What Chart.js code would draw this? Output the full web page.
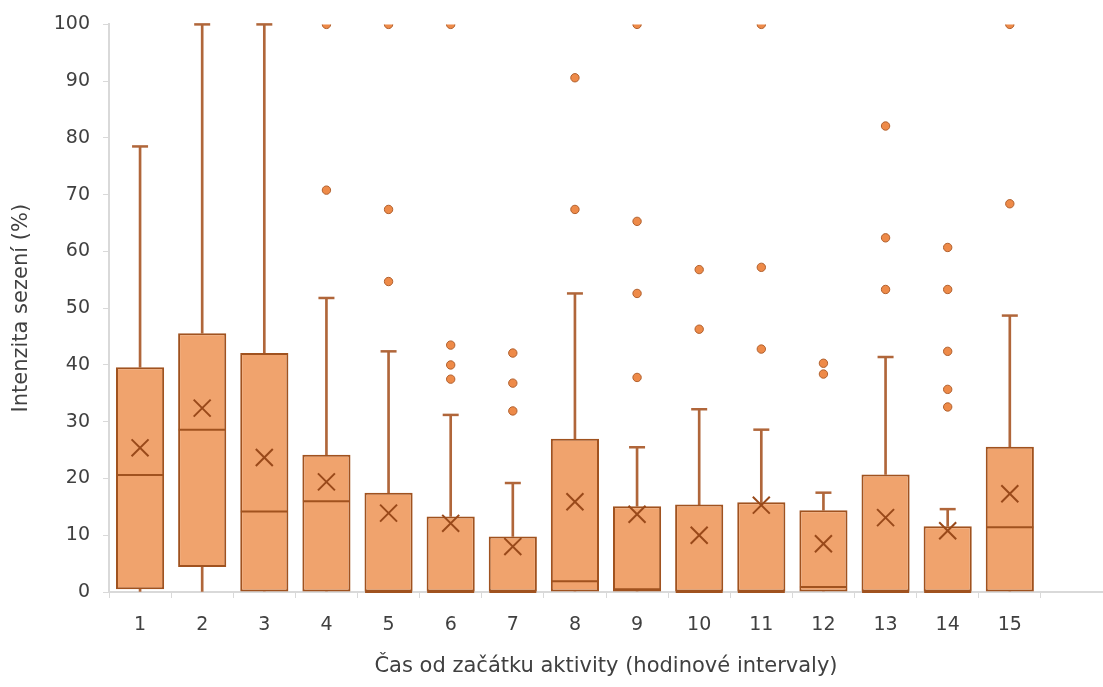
<!DOCTYPE html>
<html>
<head>
<meta charset="utf-8">
<script src="https://cdn.jsdelivr.net/npm/chart.js@4.4.1/dist/chart.umd.min.js"></script>
<style>
  html, body { margin: 0; padding: 0; background: #fff; }
  #mycanvas { display: block; }
</style>
</head>
<body>
<canvas id="mycanvas" width="1103" height="687"></canvas>
<script>
// hour intervals (16th slot is empty, like in the original)
var hours = ['1','2','3','4','5','6','7','8','9','10','11','12','13','14','15',''];

// box plot stats
var q1       = [0.5, 4.4, 0,    0,    0,    0,    0,   0,    0,    0,    0,    0,    0,    0,    0];
var median   = [20.6, 28.6, 14.2, 16.0, 0,  0,    0,   1.9,  0.5,  0,    0,    0.9,  0,    0,    11.4];
var q3       = [39.6, 45.6, 42.1, 24.2, 17.5, 13.3, 9.8, 27.0, 15.1, 15.4, 15.8, 14.4, 20.7, 11.6, 25.6];
var whiskLo  = [0,    0,    0,    0,    0,    0,    0,   0,    0,    0,    0,    0,    0,    0,    0];
var whiskHi  = [78.5, 100,  100,  51.8, 42.4, 31.2, 19.2, 52.6, 25.5, 32.2, 28.6, 17.5, 41.4, 14.6, 48.7];
var means    = [25.4, 32.4, 23.7, 19.4, 13.9, 12.1, 8.0, 15.9, 13.7, 10.0, 15.3, 8.5,  13.1, 10.8, 17.3];

// outliers, one list per interval
var outliers = [
  [],
  [],
  [],
  [100, 70.8],
  [100, 67.4, 54.7],
  [100, 43.5, 40.0, 37.5],
  [42.1, 36.8, 31.9],
  [90.6, 67.4],
  [100, 65.3, 52.6, 37.8],
  [56.8, 46.3],
  [100, 57.2, 42.8],
  [40.3, 38.4],
  [82.1, 62.4, 53.3],
  [60.7, 53.3, 42.4, 35.7, 32.6],
  [100, 68.4]
];

var boxFill = '#F0A36D';
var boxLine = '#A0521F';
var whiskColor = '#B0663A';
var textColor = '#404040';
var axisColor = '#D9D9D9';
var tickFont = { family: 'DejaVu Sans', size: 19 };
var titleFont = { family: 'DejaVu Sans', size: 21 };

var box = q1.map(function(v, i){ return [v, q3[i]]; });
var upperWhisk = q3.map(function(v, i){ return [v, whiskHi[i]]; });
var lowerWhisk = q1.map(function(v, i){ return [whiskLo[i], v]; });

var outlierPoints = [];
outliers.forEach(function(list, i){
  list.forEach(function(v){ outlierPoints.push({x: hours[i], y: v}); });
});

var ctx = document.getElementById('mycanvas');

var mycanvas = new Chart(ctx, {
  data: {
    labels: hours,
    datasets: [
      {
        type: 'bar',
        data: upperWhisk,
        backgroundColor: whiskColor,
        barThickness: 2,
        grouped: false,
        order: 6
      },
      {
        type: 'bar',
        data: lowerWhisk,
        backgroundColor: whiskColor,
        barThickness: 2,
        grouped: false,
        order: 6
      },
      {
        type: 'line',
        data: whiskHi,
        showLine: false,
        pointStyle: 'line',
        pointRadius: 8,
        pointBorderWidth: 2.5,
        pointBorderColor: whiskColor,
        pointBackgroundColor: whiskColor,
        clip: false,
        order: 5
      },
      {
        type: 'bar',
        data: box,
        backgroundColor: boxFill,
        borderColor: boxLine,
        borderWidth: 2,
        borderSkipped: false,
        categoryPercentage: 1,
        barPercentage: 0.775,
        grouped: false,
        order: 3
      },
      {
        // median line across the box
        type: 'line',
        data: median,
        showLine: false,
        pointStyle: 'line',
        pointRadius: 23.5,
        pointBorderWidth: 2,
        pointBorderColor: boxLine,
        clip: false,
        order: 2
      },
      {
        type: 'line',
        data: means,
        showLine: false,
        pointStyle: 'crossRot',
        pointRadius: 12,
        pointBorderWidth: 2,
        pointBorderColor: '#99491A',
        clip: false,
        order: 1
      },
      {
        type: 'line',
        data: outlierPoints,
        showLine: false,
        pointStyle: 'circle',
        pointRadius: 4.2,
        pointBorderWidth: 1,
        pointBackgroundColor: '#EE8A48',
        pointBorderColor: '#B0602E',
        clip: 0,
        order: 1
      }
    ]
  },
  options: {
    responsive: false,
    animation: false,
    layout: { autoPadding: false, padding: { top: 23, left: 0, right: 0, bottom: 0 } },
    plugins: {
      legend: { display: false },
      tooltip: { enabled: false }
    },
    scales: {
      x: {
        type: 'category',
        offset: true,
        grid: { display: true, drawOnChartArea: false, drawTicks: true, tickLength: 6, color: axisColor, offset: true },
        border: { display: true, color: axisColor, width: 2 },
        ticks: { color: textColor, font: tickFont, padding: 16, maxRotation: 0 },
        title: {
          display: true,
          text: 'Čas od začátku aktivity (hodinové intervaly)',
          color: textColor,
          font: titleFont,
          padding: { top: 0, bottom: 8 }
        },
        afterFit: function(s){ s.height = 95; }
      },
      y: {
        min: 0,
        max: 100,
        ticks: { stepSize: 10, color: textColor, font: tickFont, padding: 13 },
        grid: { display: true, drawOnChartArea: false, drawTicks: true, tickLength: 6, color: axisColor },
        border: { display: true, color: axisColor, width: 2 },
        title: {
          display: true,
          text: 'Intenzita sezení (%)',
          color: textColor,
          font: titleFont,
          padding: { top: 9, bottom: 0 }
        },
        afterFit: function(s){ s.width = 109; }
      }
    }
  }
});
</script>
</body>
</html>
